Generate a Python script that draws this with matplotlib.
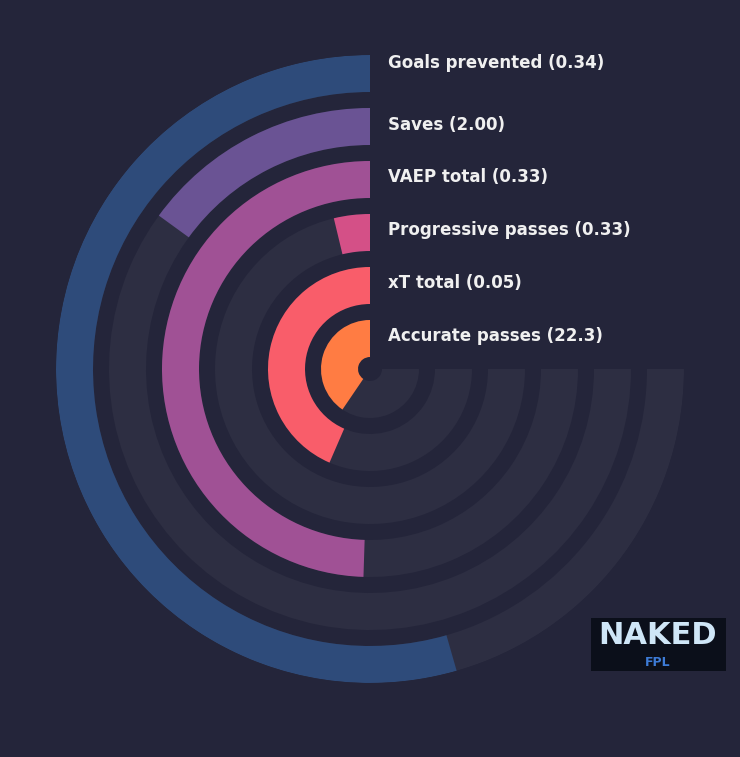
import numpy as np
import matplotlib
matplotlib.use("Agg")
import matplotlib.pyplot as plt
from matplotlib.patches import Rectangle

labels = ["Goals prevented (0.34)", "Saves (2.00)", "VAEP total (0.33)",
          "Progressive passes (0.33)", "xT total (0.05)", "Accurate passes (22.3)"]
fractions = [0.726, 0.20, 0.66, 0.05, 0.58, 0.54]
colors = ["#2e4b7a", "#6a5394", "#a05195", "#d45087", "#f95d6a", "#ff7c43"]

BG = "#24253a"
TRACK = "#2d2e42"
W, H = 740, 757
fig = plt.figure(figsize=(W/100, H/100), dpi=100, facecolor=BG)
cx, cy, R = 370, 369, 314
ax = fig.add_axes([(cx-R)/W, (H-cy-R)/H, 2*R/W, 2*R/H], projection="polar")
ax.set_facecolor("none")
ax.set_theta_zero_location("N")
ax.set_theta_direction(1)
ax.set_ylim(0, R)
ax.axis("off")

radii = [295.5, 242.5, 189.5, 136.5, 83.5, 30.5]
h = 37
full = 1.5*np.pi
for r, f, c in zip(radii, fractions, colors):
    ax.barh(r, full, left=0, height=h, color=TRACK, align="center")
    ax.barh(r, f*full, left=0, height=h, color=c, align="center")

label_y = [63, 125, 177, 230, 283, 336]
for t, y in zip(labels, label_y):
    fig.text(388/W, 1-y/H, t, color="#f0f0f0", fontsize=12, fontweight="bold",
             ha="left", va="center")

# logo
fig.patches.append(Rectangle((591/W, 1-671/H), 135/W, 53/H, transform=fig.transFigure,
                             facecolor="#0b0f1a", edgecolor="none"))
fig.text(658/W, 1-636/H, "NAKED", color="#cfe6f7", fontsize=22, fontweight="bold",
         ha="center", va="center")
fig.text(658/W, 1-662/H, "FPL", color="#3d7bd6", fontsize=9, fontweight="bold",
         ha="center", va="center")

fig.savefig("out.png", dpi=100, facecolor=BG)
